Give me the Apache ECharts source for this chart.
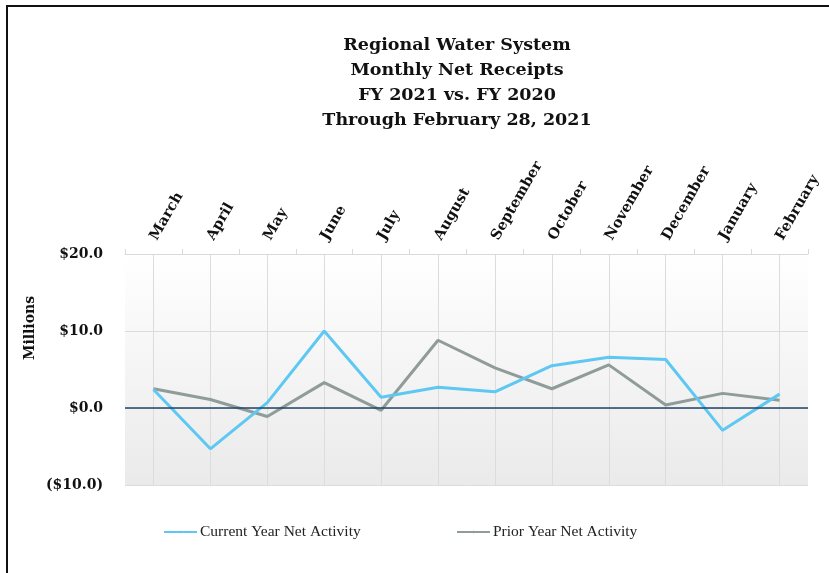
<!DOCTYPE html>
<html>
<head>
<meta charset="utf-8">
<script src="https://cdn.jsdelivr.net/npm/echarts@6/dist/echarts.min.js"></script>
<style>
  html, body { margin: 0; padding: 0; background: #fff; }
  #frame { position: absolute; left: 6px; top: 5px; width: 823px; height: 568px;
           border-left: 2px solid #111; border-top: 2px solid #111; }
  #main { position: absolute; left: 0; top: 0; width: 829px; height: 573px; }
</style>
</head>
<body>
<div id="frame"></div>
<div id="main"></div>
<script>
// data (millions)
var months = ['March', 'April', 'May', 'June', 'July', 'August', 'September',
  'October', 'November', 'December', 'January', 'February'];
var currentYear = [2.4, -5.3, 0.7, 10.0, 1.4, 2.7, 2.1, 5.5, 6.6, 6.3, -2.9, 1.8];
var priorYear = [2.5, 1.1, -1.1, 3.3, -0.3, 8.8, 5.2, 2.5, 5.6, 0.4, 1.9, 1.0];
var seriesNames = ['Current Year Net Activity', 'Prior Year Net Activity'];

var serif = 'DejaVu Serif';

function money(v) {
  if (v < 0) return '($' + (-v).toFixed(1) + ')';
  return '$' + v.toFixed(1);
}

var chart = echarts.init(document.getElementById('main'), null, { renderer: 'canvas' });

var option = {
  backgroundColor: 'transparent',
  title: {
    text: 'Regional Water System\nMonthly Net Receipts\nFY 2021 vs. FY 2020\nThrough February 28, 2021',
    left: 452,
    top: 28,
    textAlign: 'center',
    textStyle: {
      fontFamily: serif, fontWeight: 'bold', fontSize: 17.5, lineHeight: 25, color: '#111'
    }
  },
  graphic: [{
    type: 'text',
    x: 30, y: 328,
    rotation: Math.PI / 2,
    style: {
      text: 'Millions', fontFamily: serif, fontWeight: 'bold', fontSize: 14,
      fill: '#111', align: 'center', verticalAlign: 'middle'
    }
  }],
  legend: [{
    data: [seriesNames[0]],
    left: 158, top: 519,
    itemWidth: 33, itemHeight: 3, itemGap: 4,
    textStyle: { fontFamily: 'Liberation Serif', fontSize: 15.5, color: '#222', padding: [0, 0, 0, -2] }
  }, {
    data: [seriesNames[1]],
    left: 451, top: 519,
    itemWidth: 33, itemHeight: 3,
    textStyle: { fontFamily: 'Liberation Serif', fontSize: 15.5, color: '#222', padding: [0, 0, 0, -2] }
  }],
  grid: {
    left: 125, right: 21, top: 254, bottom: 88,
    show: true, borderWidth: 0,
    backgroundColor: new echarts.graphic.LinearGradient(0, 0, 0, 1, [
      { offset: 0, color: '#ffffff' },
      { offset: 1, color: '#eaeaea' }
    ])
  },
  xAxis: {
    type: 'category',
    position: 'top',
    data: months,
    boundaryGap: true,
    axisLine: { onZero: false, lineStyle: { color: '#d9d9d9', width: 1 } },
    axisTick: { show: true, length: 5, lineStyle: { color: '#d9d9d9' } },
    splitLine: { show: true, alignWithLabel: true, lineStyle: { color: '#dcdcdc' } },
    axisLabel: {
      rotate: -60, interval: 0, margin: 15,
      fontFamily: serif, fontWeight: 'bold', fontSize: 14.5, color: '#111'
    }
  },
  yAxis: {
    type: 'value',
    min: -10, max: 20, interval: 10,
    axisLine: { show: false },
    axisTick: { show: false },
    splitLine: { lineStyle: { color: '#dcdcdc' } },
    axisLabel: {
      formatter: money, margin: 22,
      fontFamily: serif, fontWeight: 'bold', fontSize: 14, color: '#111'
    }
  },
  series: [{
    name: seriesNames[0],
    type: 'line',
    data: currentYear,
    symbol: 'none',
    lineStyle: { color: '#5ec8f2', width: 3 },
    itemStyle: { color: '#5ec8f2' },
    z: 3,
    markLine: {
      silent: true, symbol: 'none', label: { show: false },
      lineStyle: { color: '#1f4466', width: 1.5, type: 'solid' },
      data: [{ yAxis: 0 }]
    }
  }, {
    name: seriesNames[1],
    type: 'line',
    data: priorYear,
    symbol: 'none',
    lineStyle: { color: '#8f9c9a', width: 3 },
    itemStyle: { color: '#8f9c9a' },
    z: 2
  }]
};

chart.setOption(option);
</script>
</body>
</html>
